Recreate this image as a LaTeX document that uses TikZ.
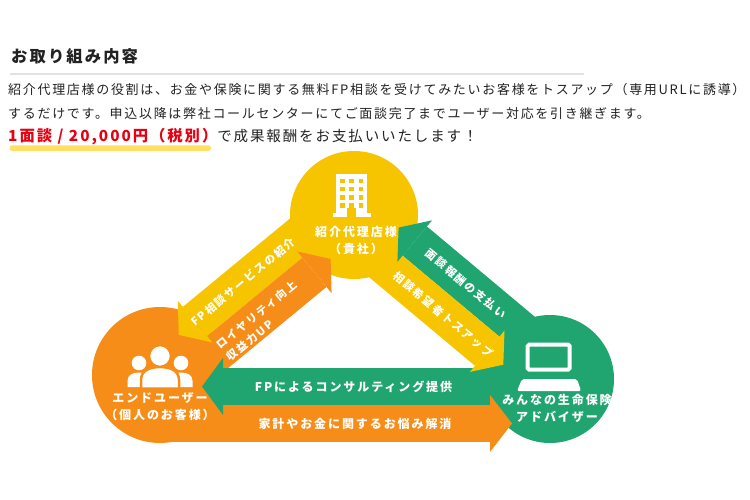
\documentclass[tikz,border=0pt]{standalone}
\usepackage{fontspec}
\setmainfont{Noto Sans CJK JP}
\newfontfamily\jpbody[LetterSpace=13]{Noto Sans CJK JP}
\newfontfamily\jplab[LetterSpace=16]{Noto Sans CJK JP}
\definecolor{yel}{HTML}{F7C400}
\definecolor{org}{HTML}{F78D19}
\definecolor{grn}{HTML}{20A570}
\definecolor{hired}{HTML}{E60012}
\definecolor{hilite}{HTML}{FFE062}
\definecolor{ink}{HTML}{222222}
\definecolor{rule}{HTML}{E2E2E2}
\tikzset{
  bodytext/.style={anchor=west, inner sep=0pt, text=ink, font=\jpbody\fontsize{13}{16}\selectfont},
  arrowlab/.style={inner sep=0pt, text=white, font=\jplab\bfseries\fontsize{11}{15.4}\selectfont},
  bottomlab/.style={inner sep=0pt, text=white, font=\jplab\bfseries\fontsize{12}{15}\selectfont},
  circlab/.style={inner sep=0pt, text=white, align=center, font=\jplab\bfseries\fontsize{12}{17}\selectfont},
  disc/.style={circle, inner sep=0pt},
}
\begin{document}
\begin{tikzpicture}[x=1pt,y=-1pt]
\fill[white] (0,0) rectangle (750,500);
\useasboundingbox (0,0) rectangle (750,500);

% heading and text
\node[anchor=west, inner sep=0pt, text=ink, font=\jpbody\bfseries\fontsize{16.3}{18}\selectfont] (title) at (11,56.5) {お取り組み内容};
\draw[rule, line width=1.8] (10,74) -- (584,74);
\node[bodytext] (l1) at (8,90) {紹介代理店様の役割は、お金や保険に関する無料FP相談を受けてみたいお客様をトスアップ（専用URLに誘導）};
\node[bodytext] (l2) at (8,113.3) {するだけです。申込以降は弊社コールセンターにてご面談完了までユーザー対応を引き継ぎます。};
\fill[hilite, rounded corners=2.5] (9.5,145.5) rectangle (211,150.8);
\node[bodytext] (l3) at (8,136.7) {{\color{hired}\bfseries\fontsize{15.3}{16}\selectfont 1面談 / 20,000円（税別）}{\fontsize{14.5}{16}\selectfont で成果報酬をお支払いいたします！}};

% circles
\node[disc, fill=yel, minimum size=128pt] (shop) at (354,215) {};
\node[disc, fill=org, minimum size=136pt] (user) at (160,375) {};
\node[disc, fill=grn, minimum size=128pt] (adv) at (550,379) {};

% bands
\begin{scope}[shift={(160,375)}, x={(0.7714pt,0.6362pt)}, y={(0.6362pt,-0.7714pt)}]
  \fill[yel] (61,-38) -- (251.5,-38) -- (251.5,0) -- (61,0) -- cycle;
  \fill[org] (0,0) -- (184.5,0) -- (184.5,38) -- (0,38) -- cycle;
\end{scope}
\begin{scope}[shift={(354,215)}, x={(0.7668pt,-0.6416pt)}, y={(0.6416pt,0.7668pt)}]
  \fill[grn] (63.3,0) -- (255.6,0) -- (255.6,38) -- (63.3,38) -- cycle;
  \fill[yel] (0,-38) -- (189.6,-38) -- (189.6,0) -- (0,0) -- cycle;
\end{scope}
\fill[grn] (223,368) rectangle (550,405);
\fill[org] (160,405) rectangle (490,442);

% heads
\begin{scope}[shift={(160,375)}, x={(0.7714pt,0.6362pt)}, y={(0.6362pt,-0.7714pt)}]
  \fill[yel] (61,-46) -- (40,-19) -- (61,8) -- cycle;
  \fill[org] (184.5,-8) -- (205.5,19) -- (184.5,46) -- cycle;
  \node[arrowlab, rotate=39.5] (lab1) at (123.5,-19) {FP相談サービスの紹介};
  \node[arrowlab, rotate=39.5, anchor=west, align=left] (lab2) at (63,22.8) {ロイヤリティ向上\\収益力UP};
\end{scope}
\begin{scope}[shift={(354,215)}, x={(0.7668pt,-0.6416pt)}, y={(0.6416pt,0.7668pt)}]
  \fill[grn] (63.3,-8) -- (42.3,19) -- (63.3,46) -- cycle;
  \fill[yel] (189.6,-46) -- (210.6,-19) -- (189.6,8) -- cycle;
  \node[arrowlab, rotate=-39.9] (lab3) at (129.8,19) {面談報酬の支払い};
  \node[arrowlab, rotate=-39.9] (lab4) at (132.4,-19) {相談希望者トスアップ};
\end{scope}
\fill[grn] (223,358) -- (202,386.5) -- (223,415) -- cycle;
\fill[org] (490,395) -- (512,423.5) -- (490,452) -- cycle;
\node[bottomlab] (lab5) at (353.5,386.5) {FPによるコンサルティング提供};
\node[bottomlab] (lab6) at (355,423.5) {家計やお金に関するお悩み解消};

% building icon
\fill[white] (336,174) rectangle (367,215);
\fill[white] (332.5,213) rectangle (370.5,217);
\foreach \cx in {340,349.25,358.5}
  \foreach \cy in {179,187,195,203}
    \fill[yel] (\cx,\cy) rectangle ++(4.5,4.5);
\fill[yel] (347,207.5) rectangle (356,217.5);
\node[circlab] (shoplab) at (356,240.5) {紹介代理店様\\（貴社）};

% people icon
\fill[white] (139,363) circle[radius=7.3];
\fill[white] (181,363) circle[radius=7.3];
\fill[white] (127.5,387) -- (127.5,381) .. controls (127.5,375) and (132.5,372.5) .. (139,372.5) .. controls (145.5,372.5) and (150.5,375) .. (150.5,381) -- (150.5,387) -- cycle;
\fill[white] (169.5,387) -- (169.5,381) .. controls (169.5,375) and (174.5,372.5) .. (181,372.5) .. controls (187.5,372.5) and (192.5,375) .. (192.5,381) -- (192.5,387) -- cycle;
\filldraw[fill=white, draw=org, line width=2.5] (160,356) circle[radius=11];
\filldraw[fill=white, draw=org, line width=2.5] (141,388.5) -- (141,380) .. controls (141,371) and (149,367) .. (160,367) .. controls (171,367) and (179,371) .. (179,380) -- (179,388.5) -- cycle;
\node[circlab] (userlab) at (160,407) {エンドユーザー\\（個人のお客様）};

% laptop icon
\draw[white, line width=4, rounded corners=1.5] (527.7,344.7) rectangle (569.7,369.7);
\fill[white, rounded corners=2] (522,379) -- (577,379) -- (581,391) -- (517,391) -- cycle;
\node[circlab] (advlab) at (557,408.5) {みんなの生命保険\\アドバイザー};
\end{tikzpicture}
\end{document}
